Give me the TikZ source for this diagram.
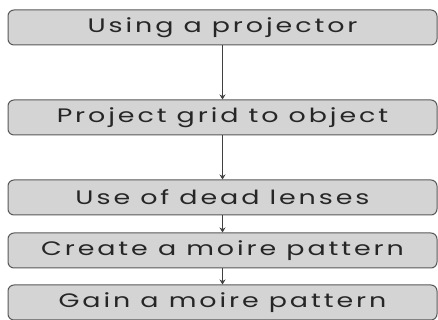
\documentclass[tikz,border=0pt]{standalone}
\usepackage{fontspec}
\setmainfont{Poppins}[LetterSpace=15, FakeStretch=1.38]
\usetikzlibrary{arrows.meta}
\begin{document}
\begin{tikzpicture}[x=1pt,y=1pt,
  stepbox/.style={draw=black!65, line width=1pt, fill=black!17, rounded corners=6pt,
    minimum width=429pt, minimum height=35pt, inner sep=0pt,
    font=\fontsize{19.5}{21}\selectfont, text=black!85},
  link/.style={draw=black!75, line width=1.3pt, -{Stealth[length=5pt,width=6pt]}}]
\useasboundingbox (0,0) rectangle (438,320);
\begin{scope}
\clip (0,0) rectangle (438,320);
\node[stepbox] (s1) at (222.5,292.5) {Using a projector};
\node[stepbox] (s2) at (222.5,202.5) {Project grid to object};
\node[stepbox] (s3) at (222.5,122.5) {Use of dead lenses};
\node[stepbox] (s4) at (222.5,69.5) {Create a moire pattern};
\node[stepbox] (s5) at (222.5,17.5) {Gain a moire pattern};
\end{scope}
\draw[link] (s1.south) -- (s2.north);
\draw[link] (s2.south) -- (s3.north);
\draw[link] (s3.south) -- (s4.north);
\draw[link] (s4.south) -- (s5.north);
\end{tikzpicture}
\end{document}
